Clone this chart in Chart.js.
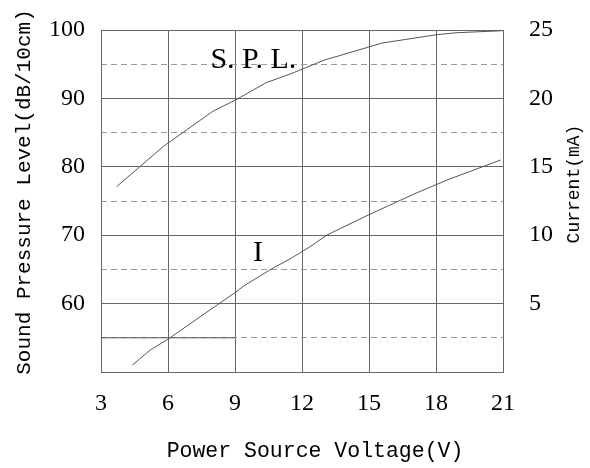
<!DOCTYPE html>
<html>
<head>
<meta charset="utf-8">
<script src="https://cdn.jsdelivr.net/npm/chart.js@4"></script>
<style>
html,body{margin:0;padding:0;background:#fff;}
#wrap{width:590px;height:468px;}
</style>
</head>
<body>
<div id="wrap"><canvas id="c" width="590" height="468"></canvas></div>
<script>
// ---- data ----
const splVoltage = [3.7, 5.8, 8.0, 9.1, 10.4, 11.5, 13.0, 15.6, 18.0, 18.9, 21.0];
const splLevel   = [77.1, 83.0, 88.1, 89.9, 92.3, 93.6, 95.6, 98.1, 99.3, 99.6, 99.9];
const curVoltage = [4.4, 5.2, 6.0, 8.2, 9.0, 9.4, 10.6, 11.5, 12.4, 13.1, 15.0, 17.0, 18.6, 20.9];
const curMA      = [0.5, 1.6, 2.4, 4.9, 5.8, 6.3, 7.5, 8.3, 9.2, 10.0, 11.5, 13.0, 14.1, 15.5];
const guideVoltage = [3, 9];
const guideLevel   = [55, 55];
const xTicks = [3, 6, 9, 12, 15, 18, 21];
const splTicks = [60, 70, 80, 90, 100];
const curTicks = [5, 10, 15, 20, 25];
const dashTicks = [55, 65, 75, 85, 95];

const pts = (xs, ys) => xs.map((x, i) => ({x: x, y: ys[i]}));
const serif = 'Liberation Serif';
const mono = 'Liberation Mono';

const noPad = s => { s.paddingTop = 0; s.paddingBottom = 0; s.paddingLeft = 0; s.paddingRight = 0; };

const textPlugin = {
  id: 'texts',
  afterDraw(chart) {
    const ctx = chart.ctx;
    const xs = chart.scales.x, ys = chart.scales.y;
    ctx.save();
    ctx.fillStyle = '#000';
    // annotations
    ctx.font = '30px "' + serif + '"';
    ctx.textAlign = 'center';
    ctx.textBaseline = 'alphabetic';
    ctx.fillText('S. P. L.', xs.getPixelForValue(9.82), ys.getPixelForValue(94.45));
    ctx.fillText('I', xs.getPixelForValue(10.03), ys.getPixelForValue(66.17));
    // axis titles
    ctx.textBaseline = 'middle';
    ctx.font = '21.5px "' + mono + '"';
    ctx.fillText('Power Source Voltage(V)', 315, 451);
    ctx.save();
    ctx.translate(24, 192);
    ctx.rotate(-Math.PI / 2);
    ctx.font = '21px "' + mono + '"';
    ctx.fillText('Sound Pressure Level(dB/10cm)', 0, 0);
    ctx.restore();
    ctx.save();
    ctx.translate(574, 184);
    ctx.rotate(-Math.PI / 2);
    ctx.font = '18px "' + mono + '"';
    ctx.fillText('Current(mA)', 0, 0);
    ctx.restore();
    ctx.restore();
  }
};

new Chart(document.getElementById('c'), {
  type: 'line',
  data: {
    datasets: [
      {label: 'S.P.L.', data: pts(splVoltage, splLevel), yAxisID: 'y', borderColor: '#555', borderWidth: 1, pointRadius: 0, tension: 0},
      {label: 'I', data: pts(curVoltage, curMA), yAxisID: 'y1', borderColor: '#555', borderWidth: 1, pointRadius: 0, tension: 0},
      {label: 'guide', data: pts(guideVoltage, guideLevel), yAxisID: 'y', borderColor: '#555', borderWidth: 1, pointRadius: 0, tension: 0}
    ]
  },
  options: {
    responsive: false,
    animation: false,
    events: [],
    layout: {padding: {top: 30, left: 0, right: 0, bottom: 0}},
    plugins: {legend: {display: false}, tooltip: {enabled: false}},
    scales: {
      x: {
        type: 'linear', position: 'bottom', min: 3, max: 21,
        afterBuildTicks: s => { s.ticks = xTicks.map(v => ({value: v})); },
        ticks: {color: '#000', font: {family: serif, size: 24}, padding: 17},
        grid: {color: '#666', lineWidth: 1, drawTicks: false},
        border: {display: true, color: '#666'},
        afterFit: s => { s.height = 96; noPad(s); }
      },
      y: {
        type: 'linear', position: 'left', min: 50, max: 100,
        afterBuildTicks: s => { s.ticks = [50].concat(splTicks).map(v => ({value: v})); },
        ticks: {color: '#000', font: {family: serif, size: 24}, padding: 16, callback: v => v === 50 ? '' : v},
        grid: {color: '#666', lineWidth: 1, drawTicks: false},
        border: {display: true, color: '#666'},
        afterFit: s => { s.width = 101; noPad(s); }
      },
      yd: {
        type: 'linear', position: 'left', min: 50, max: 100,
        afterBuildTicks: s => { s.ticks = dashTicks.map(v => ({value: v})); },
        ticks: {display: false},
        grid: {color: '#999', lineWidth: 1, drawTicks: false},
        border: {display: false, dash: [6, 4]},
        afterFit: s => { s.width = 0; noPad(s); }
      },
      y1: {
        type: 'linear', position: 'right', min: 0, max: 25,
        afterBuildTicks: s => { s.ticks = curTicks.map(v => ({value: v})); },
        ticks: {color: '#000', font: {family: serif, size: 24}, padding: 26},
        grid: {display: false, drawTicks: false},
        border: {display: false},
        afterFit: s => { s.width = 87; noPad(s); }
      }
    }
  },
  plugins: [textPlugin]
});
</script>
</body>
</html>
